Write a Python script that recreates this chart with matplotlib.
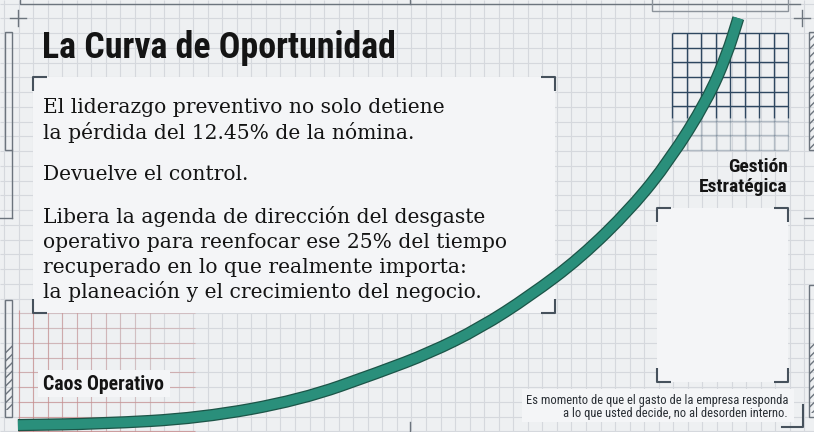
import matplotlib
matplotlib.use("Agg")
import matplotlib.pyplot as plt
from matplotlib.patches import Rectangle, PathPatch
from matplotlib.path import Path
import numpy as np

# ---------------- data ----------------
time_pct = [2.2, 12.3, 24.6, 36.9, 46.7, 52.8, 59.0, 65.1, 71.3, 77.6, 82.3, 86.9, 89.3, 90.7]
opportunity_pct = [1.6, 1.9, 3.2, 7.4, 13.9, 18.3, 24.1, 31.5, 40.3, 51.9, 63.0, 76.9, 87.3, 95.8]

title = "La Curva de Oportunidad"
body_lines = [
    "El liderazgo preventivo no solo detiene",
    "la pérdida del 12.45% de la nómina.",
    "Devuelve el control.",
    "Libera la agenda de dirección del desgaste",
    "operativo para reenfocar ese 25% del tiempo",
    "recuperado en lo que realmente importa:",
    "la planeación y el crecimiento del negocio.",
]
label_low = "Caos Operativo"
label_high = ["Gestión", "Estratégica"]
footnote = ["Es momento de que el gasto de la empresa responda",
            "a lo que usted decide, no al desorden interno."]

# ---------------- style ----------------
W, H = 814, 432
BG = "#eef0f2"
GRID = "#d5d8dd"
BOXFILL = "#f4f5f7"
BRACKET = "#46515c"
TEAL = "#2a8f7b"
TEAL_EDGE = "#1c5548"
INK = "#141414"
NARROW = ["Roboto Condensed", "Archivo Narrow", "PT Sans Narrow", "Open Sans Condensed", "DejaVu Sans"]
SERIF = ["DejaVu Serif"]

fig = plt.figure(figsize=(W / 100, H / 100), dpi=100)
fig.patch.set_facecolor(BG)

bg = fig.add_axes([0, 0, 1, 1])
bg.set_xlim(0, W)
bg.set_ylim(H, 0)
bg.axis("off")
bg.set_facecolor(BG)

# base grid
gx = np.arange(4, W + 1, 14.55)
gy = np.arange(3.6, H + 1, 14.75)
bg.vlines(gx, 0, H, color=GRID, lw=0.8, zorder=1)
bg.hlines(gy, 0, W, color=GRID, lw=0.8, zorder=1)

# red grid (bottom-left)
rx = gx[(gx > 15) & (gx < 150)]
ry = gy[(gy > 305)]
for i, x in enumerate(rx):
    bg.vlines(x, 310, 432, color="#c98585", lw=0.8, alpha=0.7 - 0.05 * i, zorder=2)
for j, y in enumerate(ry):
    bg.hlines(y, 18, 195, color="#c98585", lw=0.8, alpha=0.3 + 0.05 * j, zorder=2)

# navy grid (top-right)
nx = np.linspace(672, 788, 9)
ny = np.linspace(33, 150, 9)
for x in nx:
    bg.vlines(x, 33, 118, color="#2e4760", lw=1.0, zorder=2)
    bg.vlines(x, 118, 150, color="#2e4760", lw=1.0, alpha=0.3, zorder=2)
for y in ny:
    a = 1.0 if y < 115 else 0.3
    bg.hlines(y, 672, 788, color="#2e4760", lw=1.0, alpha=a, zorder=2)


def box(x0, y0, x1, y1, arm=14, fill=True):
    if fill:
        bg.add_patch(Rectangle((x0, y0), x1 - x0, y1 - y0, facecolor=BOXFILL,
                               edgecolor="none", zorder=3))
    kw = dict(color=BRACKET, lw=1.5, zorder=4, solid_capstyle="butt")
    bg.plot([x0, x0, x0 + arm], [y0 + arm, y0, y0], **kw)
    bg.plot([x1 - arm, x1, x1], [y0, y0, y0 + arm], **kw)
    bg.plot([x0, x0, x0 + arm], [y1 - arm, y1, y1], **kw)
    bg.plot([x1 - arm, x1, x1], [y1, y1, y1 - arm], **kw)


box(33, 77, 555, 313)
box(657, 208, 788, 382)

# label patches
bg.add_patch(Rectangle((38, 370), 132, 27, facecolor=BOXFILL, edgecolor="none", zorder=3))
bg.add_patch(Rectangle((522, 389), 272, 33, facecolor=BOXFILL, edgecolor="none", zorder=3))

# frame decorations
deco = dict(color="#6c747d", lw=1.0, zorder=4)
bg.plot([20, 20, 800], [0, 3.5, 3.5], **deco)
bg.plot([410, 410], [0, 3.5], **deco)
bg.plot([410, 410], [422, 432], **deco)
bg.plot([10, 26], [18, 18], **deco)
bg.plot([18, 18], [10, 26], **deco)
bg.plot([794, 810], [18, 18], **deco)
bg.plot([802, 802], [10, 26], **deco)
bg.add_patch(Rectangle((652, -2), 136, 13, facecolor="none", edgecolor="#8c939b", lw=1.0, zorder=4))
bg.add_patch(Rectangle((5, 32), 7, 118, facecolor="none", edgecolor="#6c747d", lw=1.0, zorder=4))
bg.plot([11.5, 11.5], [150, 218], **deco)
bg.plot([0, 12], [218, 218], **deco)
bg.add_patch(Rectangle((5, 300), 7, 117, facecolor="none", edgecolor="#6c747d", lw=1.0, zorder=4))
bg.add_patch(Rectangle((5, 345), 7, 65, facecolor="none", edgecolor="#6c747d", lw=0,
                       hatch="////", zorder=4))
bg.add_patch(Rectangle((809, 32), 8, 118, facecolor="none", edgecolor="#6c747d", lw=1.0,
                       hatch="////", zorder=4))
bg.add_patch(Rectangle((809, 285), 8, 132, facecolor="none", edgecolor="#6c747d", lw=1.0, zorder=4))
bg.add_patch(Rectangle((809, 343), 8, 70, facecolor="none", edgecolor="#6c747d", lw=0,
                       hatch="////", zorder=4))
bg.plot([804, 814], [218, 218], **deco)
bg.plot([782, 803, 803], [427, 427, 405], color=BRACKET, lw=1.5, zorder=4)

# ---------------- curve (smooth rendering through the read points) ----------------
ax = fig.add_axes([0, 0, 1, 1])
ax.set_xlim(0, 100)
ax.set_ylim(0, 100)
ax.axis("off")
ax.patch.set_alpha(0)

pts = np.column_stack([time_pct, opportunity_pct])
verts = [pts[0], (pts[0] + pts[1]) / 2]
codes = [Path.MOVETO, Path.LINETO]
for i in range(1, len(pts) - 1):
    verts += [pts[i], (pts[i] + pts[i + 1]) / 2]
    codes += [Path.CURVE3, Path.CURVE3]
verts.append(pts[-1])
codes.append(Path.LINETO)
curve = Path(verts, codes)
ax.add_patch(PathPatch(curve, facecolor="none", edgecolor=TEAL_EDGE, lw=8.8,
                       capstyle="butt", joinstyle="round", zorder=5))
ax.add_patch(PathPatch(curve, facecolor="none", edgecolor=TEAL, lw=7.0,
                       capstyle="butt", joinstyle="round", zorder=6))

# ---------------- text ----------------
bg.text(42, 58, title, family=NARROW, weight="bold", fontsize=25.8, color=INK,
        va="baseline", ha="left", zorder=10)

baselines = [113, 139, 180, 223, 248, 273, 298]
for line, yb in zip(body_lines, baselines):
    bg.text(43, yb, line, family=SERIF, fontsize=14.6, color=INK,
            va="baseline", ha="left", zorder=10)

bg.text(43, 390, label_low, family=NARROW, weight="bold", fontsize=14.2, color=INK,
        va="baseline", ha="left", zorder=10)
for line, yb in zip(label_high, [172, 192]):
    bg.text(788, yb, line, family=NARROW, weight="bold", fontsize=14, color=INK,
            va="baseline", ha="right", zorder=10)
for line, yb in zip(footnote, [404, 417]):
    bg.text(788, yb, line, family=NARROW, fontsize=9.0, color="#2a2f35",
            va="baseline", ha="right", zorder=10)

fig.savefig("out.png", dpi=100, facecolor=BG)
